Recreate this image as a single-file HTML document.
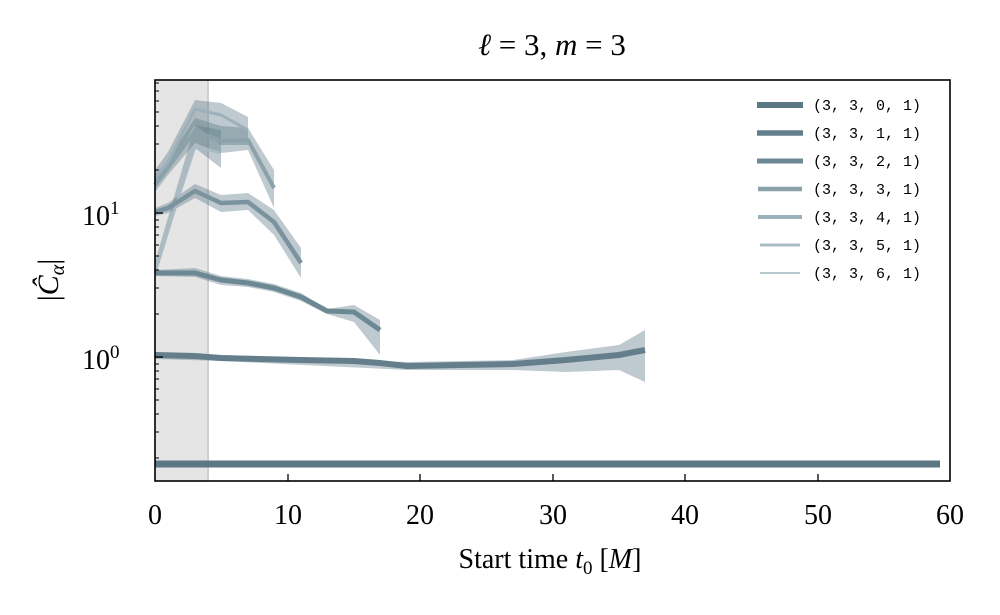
<!DOCTYPE html>
<html><head><meta charset="utf-8"><style>
body{margin:0;background:#fff;}
svg text{font-family:"Liberation Serif",serif;fill:#000;}
</style></head><body>
<svg width="1000" height="610" viewBox="0 0 1000 610" xmlns="http://www.w3.org/2000/svg">
<rect x="155" y="80" width="53" height="401" fill="#e5e5e5"/>
<line x1="208" y1="80" x2="208" y2="481" stroke="#cfcfcf" stroke-width="2"/>
<g fill="#5d7b88" fill-opacity="0.4" stroke="none">
<polygon points="155,352 221,355 407,362 513,360 566,352 619,345 645,330 645,382 619,370 566,372 513,370 407,370 221,361 155,359"/>
<polygon points="155,270 195,268 221,276 248,279 274,284 301,293 327,309 354,305 380,320 380,355 354,322 327,314 301,301 274,292 248,287 221,285 195,277 155,276"/>
<polygon points="155,208 168,203 195,184 221,195 248,193 274,210 301,248 301,278 274,235 248,210 221,212 195,198 168,213 155,216"/>
<polygon points="155,178 168,160 195,118 221,126 248,128 274,170 274,208 248,150 221,153 195,143 168,175 155,192"/>
<polygon points="155,170 168,152 195,100 221,103 248,117 248,145 221,145 195,125 168,170 155,185"/>
<polygon points="155,262 195,125 221,130 221,168 195,148 155,278"/>
</g>
<g fill="none" stroke-linejoin="round">
<polyline points="155,270 195,147 221,153" stroke="#a9bcc4" stroke-width="2.5"/>
<polyline points="155,178 168,162 195,109 221,115 248,130" stroke="#9bb0b9" stroke-width="3"/>
<polyline points="155,185 168,168 195,131 221,141 248,140 274,188" stroke="#8ca2ab" stroke-width="4"/>
<polyline points="155,212 168,208 195,191 221,203 248,202 274,222 301,263" stroke="#7a939e" stroke-width="4.5"/>
<polyline points="155,273 195,273 221,280 248,283 274,288 301,297 327,311 354,312 380,330" stroke="#6c8893" stroke-width="5"/>
<polyline points="155,355 195,356 221,358 301,360 354,361 380,363 407,366 513,364 566,360 619,355 645,350" stroke="#647f8b" stroke-width="6"/>
<line x1="155" y1="464" x2="940" y2="464" stroke="#5b7885" stroke-width="7"/>
</g>
<rect x="155" y="80" width="795" height="401" fill="none" stroke="#000" stroke-width="1.6"/>
<g stroke="#000" stroke-width="1.3">
<line x1="288" y1="481" x2="288" y2="474"/><line x1="420" y1="481" x2="420" y2="474"/><line x1="553" y1="481" x2="553" y2="474"/><line x1="685" y1="481" x2="685" y2="474"/><line x1="818" y1="481" x2="818" y2="474"/>
<line x1="155" y1="213" x2="163" y2="213"/><line x1="155" y1="357" x2="163" y2="357"/>
<g stroke-width="1">
<line x1="155" y1="458" x2="159" y2="458"/><line x1="155" y1="432" x2="159" y2="432"/><line x1="155" y1="414" x2="159" y2="414"/><line x1="155" y1="400" x2="159" y2="400"/><line x1="155" y1="389" x2="159" y2="389"/><line x1="155" y1="379" x2="159" y2="379"/><line x1="155" y1="371" x2="159" y2="371"/><line x1="155" y1="364" x2="159" y2="364"/>
<line x1="155" y1="314" x2="159" y2="314"/><line x1="155" y1="288" x2="159" y2="288"/><line x1="155" y1="270" x2="159" y2="270"/><line x1="155" y1="256" x2="159" y2="256"/><line x1="155" y1="245" x2="159" y2="245"/><line x1="155" y1="235" x2="159" y2="235"/><line x1="155" y1="227" x2="159" y2="227"/><line x1="155" y1="220" x2="159" y2="220"/>
<line x1="155" y1="170" x2="159" y2="170"/><line x1="155" y1="144" x2="159" y2="144"/><line x1="155" y1="126" x2="159" y2="126"/><line x1="155" y1="112" x2="159" y2="112"/><line x1="155" y1="101" x2="159" y2="101"/><line x1="155" y1="91" x2="159" y2="91"/><line x1="155" y1="83" x2="159" y2="83"/>
</g></g>
<g font-size="28" text-anchor="middle">
<text x="155" y="524">0</text><text x="288" y="524">10</text><text x="420" y="524">20</text><text x="553" y="524">30</text><text x="685" y="524">40</text><text x="818" y="524">50</text><text x="950" y="524">60</text>
</g>
<text x="82" y="225" font-size="28">10<tspan font-size="19" dy="-11">1</tspan></text>
<text x="82" y="369" font-size="28">10<tspan font-size="19" dy="-11">0</tspan></text>
<text x="550" y="568" font-size="28" text-anchor="middle">Start time <tspan font-style="italic">t</tspan><tspan font-size="19" dy="6">0</tspan><tspan dy="-6"> [</tspan><tspan font-style="italic">M</tspan>]</text>
<text x="552" y="55" font-size="31" text-anchor="middle"><tspan font-style="italic">ℓ</tspan> = 3, <tspan font-style="italic">m</tspan> = 3</text>
<text transform="translate(58,280) rotate(-90)" font-size="30" text-anchor="middle">|<tspan font-style="italic">Ĉ</tspan><tspan font-size="20" font-style="italic" dy="6">α</tspan><tspan dy="-6">|</tspan></text>
<g font-size="15" style="font-family:'Liberation Mono',monospace">
<line x1="757" y1="105" x2="803" y2="105" stroke="#5b7885" stroke-width="6"/><text x="813" y="110" style="font-family:'Liberation Mono',monospace">(3, 3, 0, 1)</text>
<line x1="757" y1="133" x2="803" y2="133" stroke="#647f8b" stroke-width="5.5"/><text x="813" y="138" style="font-family:'Liberation Mono',monospace">(3, 3, 1, 1)</text>
<line x1="757" y1="161" x2="803" y2="161" stroke="#6c8893" stroke-width="5"/><text x="813" y="166" style="font-family:'Liberation Mono',monospace">(3, 3, 2, 1)</text>
<line x1="758" y1="189" x2="802" y2="189" stroke="#8ca2ab" stroke-width="4.5"/><text x="813" y="194" style="font-family:'Liberation Mono',monospace">(3, 3, 3, 1)</text>
<line x1="758" y1="217" x2="802" y2="217" stroke="#9bb0b9" stroke-width="4"/><text x="813" y="222" style="font-family:'Liberation Mono',monospace">(3, 3, 4, 1)</text>
<line x1="760" y1="245" x2="800" y2="245" stroke="#a9bcc4" stroke-width="3"/><text x="813" y="250" style="font-family:'Liberation Mono',monospace">(3, 3, 5, 1)</text>
<line x1="760" y1="273" x2="800" y2="273" stroke="#b8c8ce" stroke-width="2"/><text x="813" y="278" style="font-family:'Liberation Mono',monospace">(3, 3, 6, 1)</text>
</g>
</svg>
</body></html>
